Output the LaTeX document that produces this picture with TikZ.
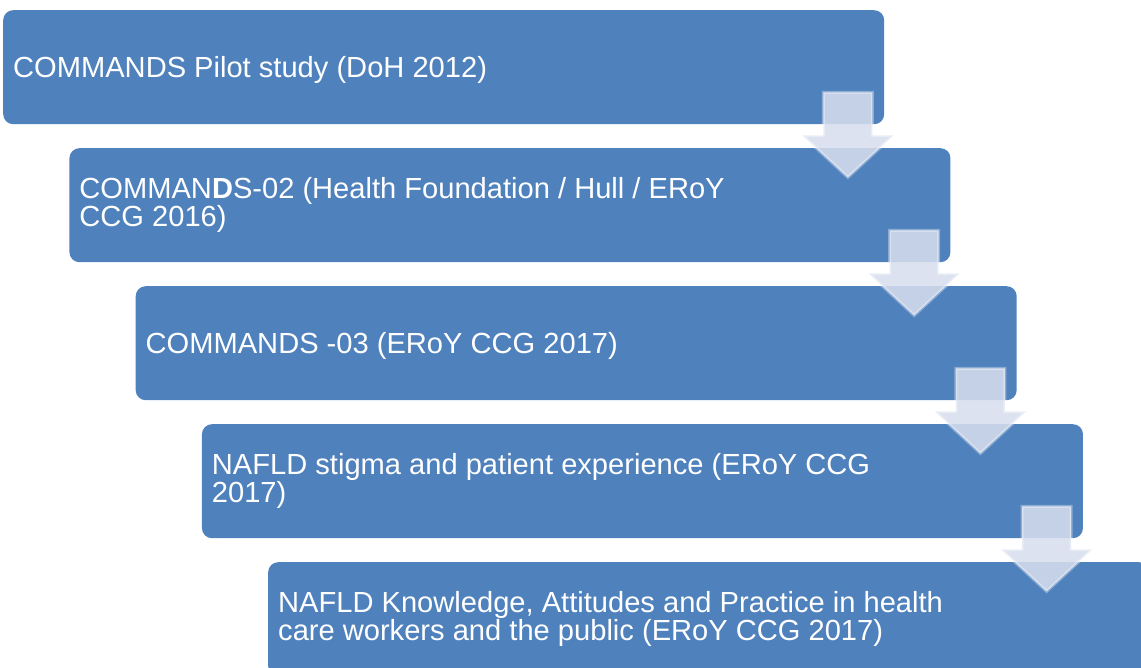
\documentclass[tikz,border=0pt]{standalone}
\usepackage{fontspec}
\setmainfont{Liberation Sans}
\usetikzlibrary{calc}
\definecolor{boxblue}{RGB}{79,129,189}
\definecolor{arrowfill}{RGB}{215,222,237}
\tikzset{
  stage/.style={fill=boxblue, rounded corners=10pt, minimum width=881pt,
    minimum height=114pt, anchor=north west, inner sep=0pt},
  stagetext/.style={anchor=west, inner sep=0pt, align=left, text=white,
    font=\fontsize{29.1}{28}\selectfont},
  flow/.style={fill=arrowfill, fill opacity=0.87, draw=white, draw opacity=0.35,
    line width=3pt, line join=miter}
}
\begin{document}
\begin{tikzpicture}[x=1pt, y=-1pt]
  \useasboundingbox (0,0) rectangle (1141,668);
  \clip (0,0) rectangle (1141,668);
  \node[stage] (b1) at (3,10) {};
  \node[stage] (b2) at (69.25,148) {};
  \node[stage] (b3) at (135.5,286) {};
  \node[stage] (b4) at (201.75,424) {};
  \node[stage] (b5) at (268,562) {};
  \node[stagetext] (l1) at ($(b1.west)+(10,2.5)$) {COMMANDS Pilot study (DoH 2012)};
  \node[stagetext] (l2) at ($(b2.west)+(10,0)$) {COMMAN\textbf{D}S-02 (Health Foundation / Hull / ERoY\\CCG 2016)};
  \node[stagetext] (l3) at ($(b3.west)+(10,2.5)$) {COMMANDS -03 (ERoY CCG 2017)};
  \node[stagetext] (l4) at ($(b4.west)+(10,0)$) {NAFLD stigma and patient experience (ERoY CCG\\2017)};
  \node[stagetext] (l5) at ($(b5.west)+(10,0)$) {NAFLD Knowledge, Attitudes and Practice in health\\care workers and the public (ERoY CCG 2017)};
  \foreach \i in {1,2,3,4}{
    \coordinate (t\i) at ($(b\i.south east)+(-36.5,-32)$);
    \draw[flow] ($(t\i)+(-24.5,0)$) -- ($(t\i)+(24.5,0)$) -- ($(t\i)+(24.5,43)$)
      -- ($(t\i)+(45.5,43)$) -- ($(t\i)+(0,85)$) -- ($(t\i)+(-45.5,43)$)
      -- ($(t\i)+(-24.5,43)$) -- cycle;
  }
\end{tikzpicture}
\end{document}
